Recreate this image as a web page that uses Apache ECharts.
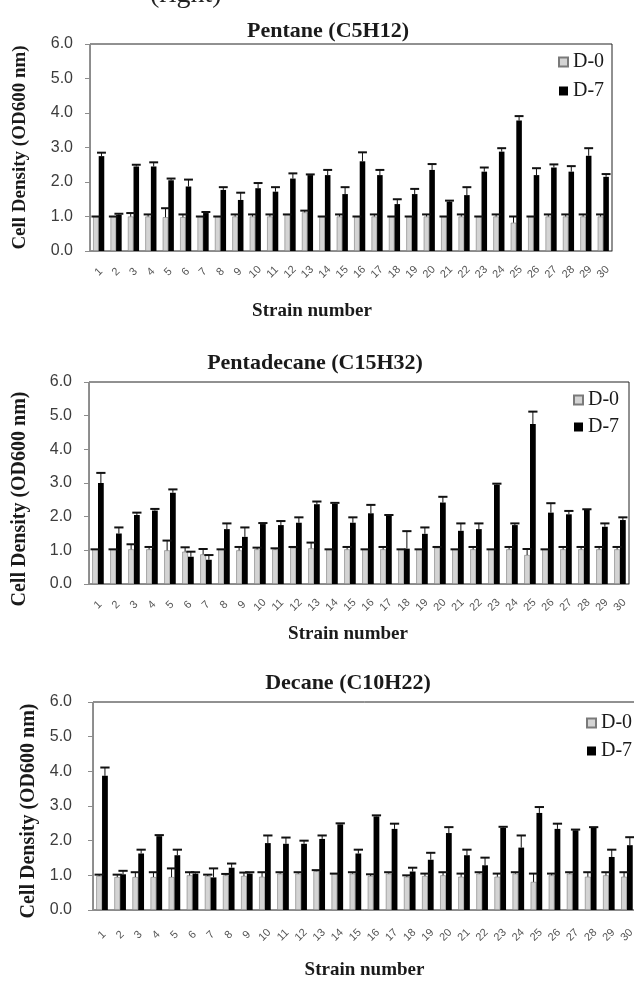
<!DOCTYPE html>
<html>
<head>
<meta charset="utf-8">
<title>Cell density of strains on alkanes</title>
<script src="https://cdn.jsdelivr.net/npm/echarts@6/dist/echarts.min.js"></script>
<style>
  html, body { margin: 0; padding: 0; background: #fff; overflow: hidden; }
  #main { width: 660px; height: 981px; }
</style>
</head>
<body>
<div id="main"></div>
<script>
var strains = ['1', '2', '3', '4', '5', '6', '7', '8', '9', '10', '11', '12', '13', '14', '15',
  '16', '17', '18', '19', '20', '21', '22', '23', '24', '25', '26', '27', '28', '29', '30'];

// Pentane (C5H12)
var pentaneD0 = [1.0, 1.0, 1.0, 1.0, 0.98, 0.98, 1.0, 1.0, 1.0, 1.0, 1.0, 1.06, 1.12, 1.0, 1.0,
  1.0, 1.0, 1.0, 1.0, 1.0, 1.0, 1.0, 1.0, 1.0, 0.82, 1.0, 1.0, 1.0, 1.0, 1.0];
var pentaneD0Err = [0, 0, 0.1, 0.06, 0.26, 0.08, 0, 0, 0.06, 0.06, 0.06, 0, 0.05, 0, 0.06,
  0, 0.06, 0, 0, 0.06, 0, 0.06, 0, 0.06, 0.18, 0, 0.06, 0.06, 0.06, 0.06];
var pentaneD7 = [2.75, 1.05, 2.45, 2.45, 2.05, 1.87, 1.1, 1.77, 1.48, 1.82, 1.72, 2.1, 2.2, 2.2, 1.65,
  2.6, 2.2, 1.36, 1.65, 2.35, 1.43, 1.62, 2.3, 2.88, 3.78, 2.2, 2.42, 2.3, 2.76, 2.15];
var pentaneD7Err = [0.1, 0.03, 0.05, 0.12, 0.05, 0.2, 0.03, 0.08, 0.21, 0.15, 0.13, 0.15, 0.02, 0.15, 0.2,
  0.26, 0.15, 0.14, 0.15, 0.17, 0.03, 0.23, 0.12, 0.1, 0.13, 0.2, 0.09, 0.16, 0.22, 0.08];

// Pentadecane (C15H32)
var pentadecaneD0 = [1.03, 1.03, 1.03, 1.03, 1.0, 0.96, 0.88, 1.03, 1.0, 1.03, 1.03, 1.08, 1.06, 1.03, 1.03,
  1.03, 1.03, 1.03, 1.03, 1.08, 1.03, 1.03, 1.03, 1.03, 0.86, 1.03, 1.03, 1.03, 1.03, 1.03];
var pentadecaneD0Err = [0, 0, 0.15, 0.07, 0.29, 0.13, 0.16, 0, 0.1, 0.05, 0.03, 0.02, 0.17, 0, 0.07,
  0, 0.07, 0, 0, 0.02, 0, 0.07, 0, 0.07, 0.18, 0, 0.07, 0.07, 0.07, 0.07];
var pentadecaneD7 = [3.0, 1.5, 2.05, 2.18, 2.71, 0.81, 0.72, 1.63, 1.4, 1.78, 1.75, 1.82, 2.37, 2.38, 1.82,
  2.1, 2.03, 1.05, 1.49, 2.42, 1.58, 1.63, 2.95, 1.75, 4.75, 2.12, 2.07, 2.2, 1.7, 1.9];
var pentadecaneD7Err = [0.3, 0.18, 0.07, 0.05, 0.1, 0.15, 0.14, 0.17, 0.28, 0.03, 0.12, 0.16, 0.08, 0.03, 0.16,
  0.25, 0.02, 0.52, 0.19, 0.17, 0.22, 0.17, 0.03, 0.05, 0.37, 0.28, 0.1, 0.02, 0.1, 0.08];

// Decane (C10H22)
var decaneD0 = [0.98, 0.95, 0.95, 0.95, 0.95, 1.0, 0.98, 1.0, 0.98, 0.96, 1.05, 1.05, 1.12, 1.05, 1.05,
  0.98, 1.05, 0.96, 0.98, 1.0, 0.96, 1.05, 0.96, 1.05, 0.81, 1.0, 1.05, 0.96, 1.0, 0.96];
var decaneD0Err = [0.04, 0.07, 0.14, 0.14, 0.25, 0.09, 0.04, 0.04, 0.1, 0.13, 0.04, 0.04, 0.03, 0, 0.04,
  0.05, 0.04, 0.04, 0.07, 0.09, 0.09, 0.04, 0.09, 0.04, 0.24, 0.05, 0.04, 0.13, 0.09, 0.13];
var decaneD7 = [3.87, 1.03, 1.63, 2.13, 1.58, 1.05, 0.94, 1.22, 1.05, 1.93, 1.91, 1.91, 2.05, 2.47, 1.63,
  2.7, 2.34, 1.11, 1.45, 2.22, 1.58, 1.29, 2.37, 1.8, 2.8, 2.34, 2.3, 2.37, 1.53, 1.87];
var decaneD7Err = [0.24, 0.1, 0.11, 0.03, 0.16, 0.04, 0.26, 0.12, 0.04, 0.22, 0.18, 0.09, 0.1, 0.03, 0.11,
  0.03, 0.15, 0.11, 0.2, 0.17, 0.16, 0.22, 0.03, 0.35, 0.17, 0.15, 0.02, 0.02, 0.21, 0.23];

var GAP = 0.36; // barCategoryGap
var SERIF = '"Liberation Serif", "Times New Roman", serif';
var SANS = '"Liberation Sans", Arial, sans-serif';

var panels = [
  {
    title: 'Pentane (C5H12)', d0: pentaneD0, d0Err: pentaneD0Err, d7: pentaneD7, d7Err: pentaneD7Err,
    grid: { left: 90, top: 44, width: 522, height: 207 },
    titlePos: [328, 20], legendPos: [558, 52, 9],
    yNameGap: 60, yNameSize: 19, yNameShift: 0, yLabelMargin: 17,
    xNameGap: 51, xNameShift: 78, xLabelMargin: 21
  },
  {
    title: 'Pentadecane (C15H32)', d0: pentadecaneD0, d0Err: pentadecaneD0Err, d7: pentadecaneD7, d7Err: pentadecaneD7Err,
    grid: { left: 89, top: 382, width: 540, height: 202 },
    titlePos: [315, 352], legendPos: [573, 390, 7],
    yNameGap: 59, yNameSize: 20, yNameShift: 32, yLabelMargin: 17,
    xNameGap: 41, xNameShift: 22, xLabelMargin: 21
  },
  {
    title: 'Decane (C10H22)', d0: decaneD0, d0Err: decaneD0Err, d7: decaneD7, d7Err: decaneD7Err,
    grid: { left: 93, top: 702, width: 543, height: 209 },
    titlePos: [348, 672], legendPos: [586, 713, 8],
    yNameGap: 50, yNameSize: 20, yNameShift: 10, yLabelMargin: 21,
    xNameGap: 51, xNameShift: 0, xLabelMargin: 25
  }
];

function errorBar(side) {
  return function (params, api) {
    var i = api.value(0);
    var lo = api.coord([i, api.value(1)]);
    var hi = api.coord([i, api.value(2)]);
    var band = api.size([1, 0])[0];
    var bw = band * (1 - GAP) / 2;
    var x = lo[0] + side * bw / 2;
    var half = bw * 0.8;
    return {
      type: 'group',
      children: [
        { type: 'line', shape: { x1: x, y1: lo[1], x2: x, y2: hi[1] }, style: { stroke: '#111', lineWidth: 1 } },
        { type: 'line', shape: { x1: x - half, y1: hi[1], x2: x + half, y2: hi[1] }, style: { stroke: '#111', lineWidth: 2 } }
      ]
    };
  };
}

var option = {
  animation: false,
  backgroundColor: '#fff',
  title: [],
  legend: [],
  grid: [],
  xAxis: [],
  yAxis: [],
  series: [],
  // caption cut off at the top edge of the picture
  graphic: [{
    type: 'text', left: 150, top: -19,
    style: { text: '(right)', font: '28px ' + SERIF, fill: '#222' }
  }]
};

panels.forEach(function (p, k) {
  option.title.push({
    text: p.title, left: p.titlePos[0], top: p.titlePos[1], textAlign: 'center', padding: 0,
    textStyle: { fontFamily: SERIF, fontWeight: 'bold', fontSize: 22, color: '#1a1a1a' }
  });
  option.legend.push({
    data: ['D-0', 'D-7'], orient: 'vertical', left: p.legendPos[0], top: p.legendPos[1],
    itemGap: p.legendPos[2], itemWidth: 9, itemHeight: 9, padding: 0, icon: 'rect',
    textStyle: { fontFamily: SERIF, fontSize: 20, color: '#1a1a1a' }
  });
  option.grid.push(Object.assign({ show: true, borderColor: '#222', borderWidth: 1 }, p.grid));
  option.xAxis.push({
    type: 'category', gridIndex: k, data: strains,
    name: 'Strain number', nameLocation: 'middle', nameGap: p.xNameGap,
    nameTextStyle: { fontFamily: SERIF, fontWeight: 'bold', fontSize: 19, color: '#1a1a1a', padding: [0, p.xNameShift, 0, 0] },
    axisLine: { lineStyle: { color: '#8c8c8c' } },
    axisTick: { length: 5, lineStyle: { color: '#8c8c8c' } },
    axisLabel: { interval: 0, rotate: 45, align: 'center', verticalAlign: 'middle', margin: p.xLabelMargin,
      fontFamily: SANS, fontSize: 11, color: '#555' }
  });
  option.yAxis.push({
    type: 'value', gridIndex: k, min: 0, max: 6, interval: 1,
    name: 'Cell Density (OD600 nm)', nameLocation: 'middle', nameGap: p.yNameGap,
    nameTextStyle: { fontFamily: SERIF, fontWeight: 'bold', fontSize: p.yNameSize, color: '#1a1a1a',
      padding: [0, p.yNameShift, 0, 0] },
    axisLine: { show: true, lineStyle: { color: '#8c8c8c' } },
    axisTick: { show: true, length: 5, lineStyle: { color: '#8c8c8c' } },
    splitLine: { show: false },
    axisLabel: { margin: p.yLabelMargin, fontFamily: SANS, fontSize: 16, color: '#3c3c3c',
      formatter: function (v) { return v.toFixed(1); } }
  });
  option.series.push({
    name: 'D-0', type: 'bar', xAxisIndex: k, yAxisIndex: k, data: p.d0,
    barGap: '0%', barCategoryGap: (GAP * 100) + '%',
    itemStyle: { color: '#d4d4d4', borderColor: '#7a7a7a', borderWidth: 0.6 }
  });
  option.series.push({
    name: 'D-7', type: 'bar', xAxisIndex: k, yAxisIndex: k, data: p.d7,
    barGap: '0%', barCategoryGap: (GAP * 100) + '%',
    itemStyle: { color: '#000' }
  });
  option.series.push({
    name: 'D-0 error', type: 'custom', xAxisIndex: k, yAxisIndex: k, z: 3,
    renderItem: errorBar(-1), encode: { x: 0, y: [1, 2] },
    data: p.d0.map(function (v, i) { return [i, v, v + p.d0Err[i]]; })
  });
  option.series.push({
    name: 'D-7 error', type: 'custom', xAxisIndex: k, yAxisIndex: k, z: 3,
    renderItem: errorBar(1), encode: { x: 0, y: [1, 2] },
    data: p.d7.map(function (v, i) { return [i, v, v + p.d7Err[i]]; })
  });
});

var myChart = echarts.init(document.getElementById('main'));
myChart.setOption(option);
</script>
</body>
</html>
